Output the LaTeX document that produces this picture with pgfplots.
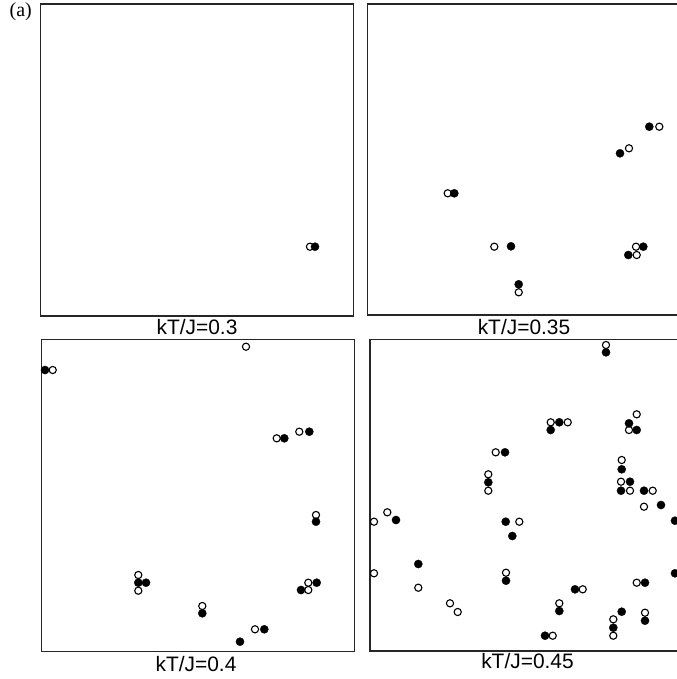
\documentclass[border=0pt]{standalone}
\usepackage{pgfplots}
\pgfplotsset{compat=1.18}
\usepackage{fontspec}
\setmainfont{Liberation Sans}
\newfontfamily\serifa{Liberation Serif}
\pgfplotsset{
  panel/.style={x=1bp,y=1bp,y dir=reverse,xtick=\empty,ytick=\empty,
    axis line style={line width=1.1bp,black!85},clip=false,anchor=north west},
  op/.style={only marks,mark=*,mark size=3.6bp,mark options={fill=white,draw=black,line width=1.1bp}},
  fi/.style={only marks,mark=*,mark size=4.1bp,mark options={fill=black,draw=black,line width=0.3bp}},
}
\begin{document}
\begin{tikzpicture}
% top left
\begin{axis}[panel,at={(40.7bp,-4bp)},xmin=40.7,xmax=353.3,ymin=4,ymax=316]
\addplot[op] table {
x y
310 246.7
};
\addplot[fi] table {
x y
315 246.7
};
\end{axis}
% top right
\begin{axis}[panel,at={(367.3bp,-4bp)},xmin=367.3,xmax=690,ymin=4,ymax=315]
\addplot[op] table {
x y
447.7 193.3
494.3 246.7
518.7 292.3
629 148.3
659.3 126.7
636 246.7
636.7 255
};
\addplot[fi] table {
x y
454.3 193.3
511 246.3
518.7 284.3
620 153.3
649.3 126.7
643.3 246.7
628.3 255
};
\end{axis}
% bottom left
\begin{axis}[panel,at={(41.7bp,-339.3bp)},xmin=41.7,xmax=354.3,ymin=339.3,ymax=651.7]
\addplot[op] table {
x y
52.7 370
246 346.7
276.7 438.3
299.3 431.7
316 515
138.3 575
138.3 590.7
202.3 606
255 629.3
308.3 582.7
308.3 590
};
\addplot[fi] table {
x y
45 370
284.3 438.3
309.3 431.7
316 521.7
138.3 582.7
146 582.7
202.3 613.3
264.3 629.3
240 641.7
316.7 582.7
301 590
};
\end{axis}
% bottom right
\begin{axis}[panel,at={(370bp,-339.3bp)},xmin=370,xmax=690,ymin=339.3,ymax=651]
\addplot[op] table {
x y
606 345
550.7 422.3
567.7 422.3
636.7 414.3
629 430
621.7 460
621 481.7
630 490.7
652.7 490.7
644 506.7
495.7 452.3
488.3 474.3
488.3 490.7
374 521.7
387.3 512.3
519.3 521.7
374 573.3
418.3 587.7
450 603.3
457.7 612
506 572.7
582.7 589.3
636.7 582.7
559.3 603.3
613.3 619.3
613.3 635.7
645 612.7
552.7 635.7
};
\addplot[fi] table {
x y
606 352.3
550.7 430
559.3 422.3
629 423.3
636.7 430
621.7 469.3
630 481.7
621 490.7
644 490.7
661 505
675 520.7
505 452.3
488.3 482.3
396 520
505.7 521.7
512.3 536
418.3 564
506 580.7
575 589.3
645 582.7
675 573.3
559.3 611
621.7 611.7
613.3 627.7
645 620.7
545 635.7
};
\end{axis}
\node[font=\serifa\fontsize{20}{22}\selectfont,inner sep=0] at (20.8bp,-12bp) {(a)};
\node[font=\fontsize{21}{23}\selectfont,inner sep=0] at (197bp,-327.5bp) {kT/J=0.3};
\node[font=\fontsize{21}{23}\selectfont,inner sep=0] at (524bp,-327bp) {kT/J=0.35};
\node[font=\fontsize{21}{23}\selectfont,inner sep=0] at (196bp,-664.5bp) {kT/J=0.4};
\node[font=\fontsize{21}{23}\selectfont,inner sep=0] at (527.5bp,-661.5bp) {kT/J=0.45};
\pgfresetboundingbox
\useasboundingbox (0,0) rectangle (677bp,-679bp);
\end{tikzpicture}
\end{document}
